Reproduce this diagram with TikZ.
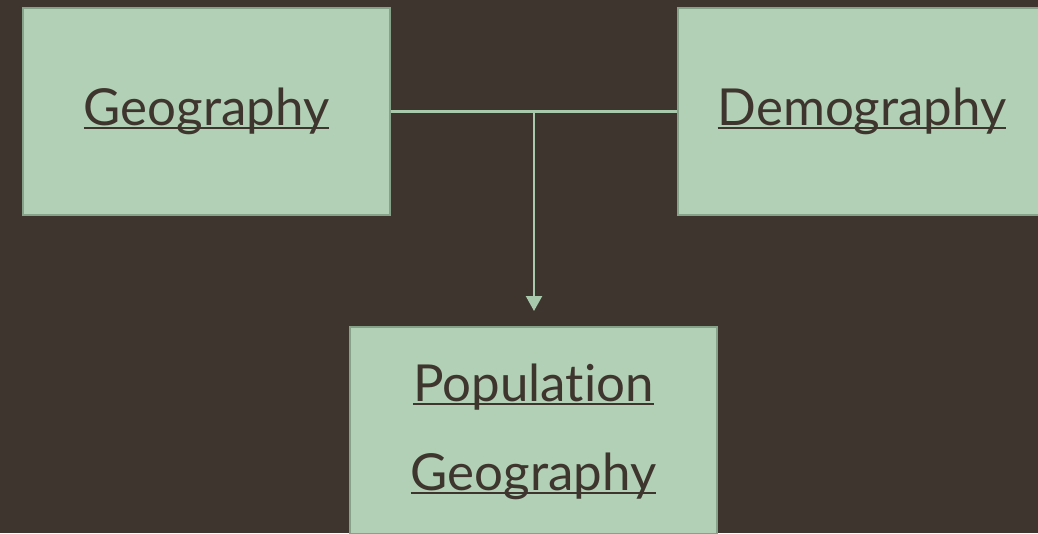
\documentclass[tikz,border=0pt]{standalone}
\usepackage{fontspec}
\setmainfont{Lato}[Ligatures={NoCommon}]
\usetikzlibrary{arrows.meta}
\definecolor{bgc}{HTML}{3E362E}
\definecolor{boxfill}{HTML}{B2D0B5}
\definecolor{boxline}{HTML}{86A38A}
\definecolor{linec}{HTML}{A9C9AD}
\newcommand\myul[1]{\setbox0\hbox{#1}\rlap{\rule[-4pt]{\wd0}{2pt}}\box0}
\tikzset{
  box/.style={draw=boxline, line width=2pt, fill=boxfill, minimum width=367pt, minimum height=207pt, inner sep=0pt},
  lbl/.style={anchor=base, text=bgc, font=\fontsize{51}{55}\selectfont, inner sep=0pt},
  conn/.style={draw=linec, line width=2.2pt}
}
\begin{document}
\begin{tikzpicture}[x=1pt,y=-1pt]
\fill[bgc] (0,0) rectangle (1038,533);
\useasboundingbox (0,0) rectangle (1038,533);
\node[box] (geo) at (206.5,111.5) {};
\node[box] (demo) at (861.5,111.5) {};
\node[box] (pop) at (533.5,430.5) {};
\node[lbl] (geot) at (206.5,125) {\myul{Geography}};
\node[lbl] (demot) at (862,125) {\myul{Demography}};
\node[lbl] (popt1) at (533.5,401) {\myul{Population}};
\node[lbl] (popt2) at (533.5,490) {\myul{Geography}};
\coordinate (j) at (534,112);
\coordinate (tip) at (534,311);
\draw[conn] (geo.east) -- (demo.west);
\draw[conn, -{Triangle[width=16pt,length=15pt]}] (j) -- (tip);
\end{tikzpicture}
\end{document}
